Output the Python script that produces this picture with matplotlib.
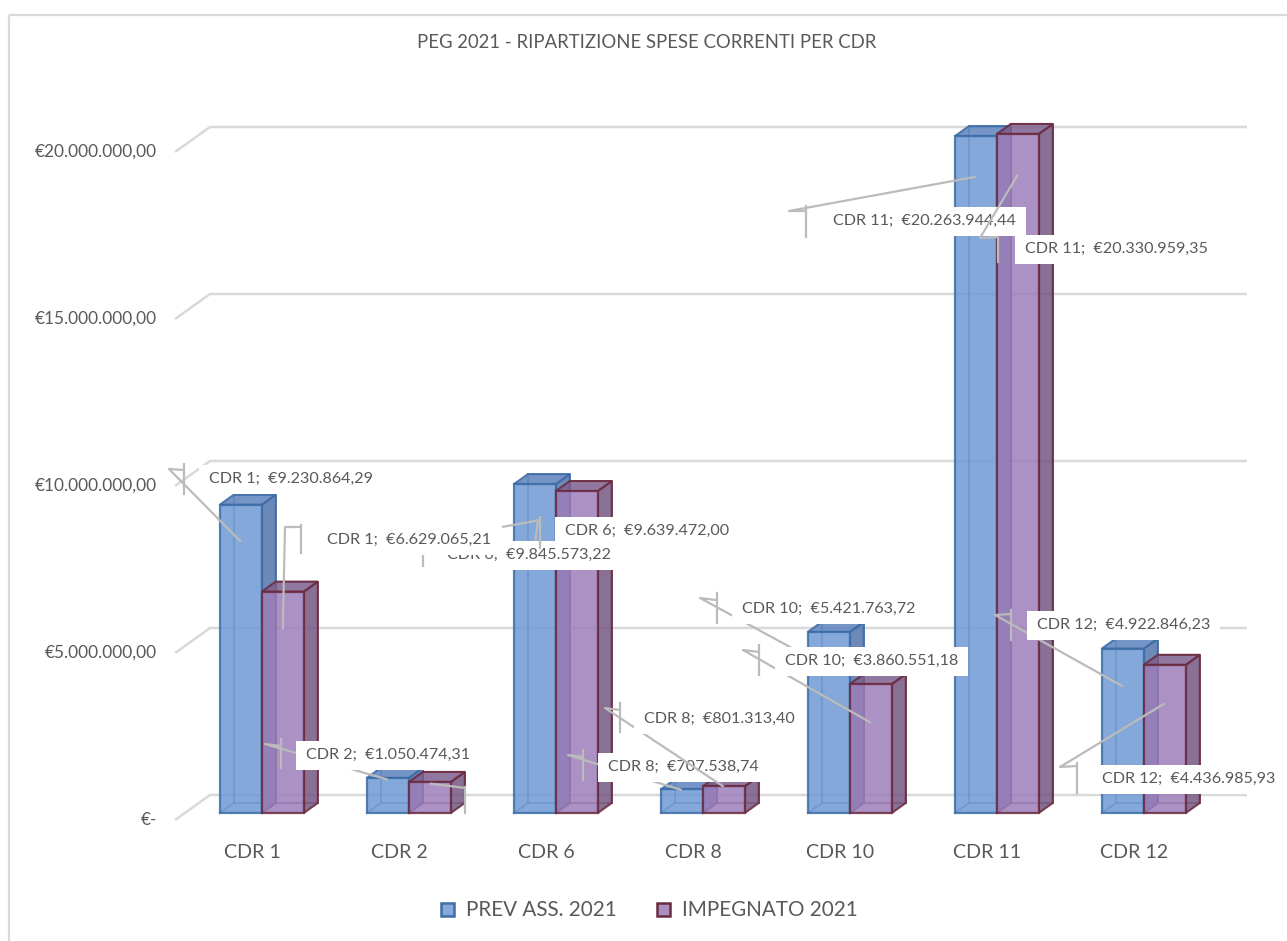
import matplotlib
matplotlib.use("Agg")
import matplotlib.pyplot as plt
from matplotlib.patches import Polygon, Rectangle

# ---------------- data ----------------
categories = ["CDR 1", "CDR 2", "CDR 6", "CDR 8", "CDR 10", "CDR 11", "CDR 12"]
prev_ass_2021 = [9230864.29, 1050474.31, 9845573.22, 707538.74, 5421763.72, 20263944.44, 4922846.23]
impegnato_2021 = [6629065.21, 930000.00, 9639472.00, 801313.40, 3860551.18, 20330959.35, 4436985.93]
series_names = ["PREV ASS. 2021", "IMPEGNATO 2021"]
y_ticks = [0, 5_000_000, 10_000_000, 15_000_000, 20_000_000]
title = "PEG 2021 - RIPARTIZIONE SPESE CORRENTI PER CDR"


def eur(v):
    if v == 0:
        return "€-"
    s = f"{v:,.2f}".replace(",", "X").replace(".", ",").replace("X", ".")
    return "€" + s


# ---------------- layout ----------------
W, H = 1287, 941
FONT = "Lato"
TXT = "#595959"
GRID = "#D9D9D9"
LEAD = "#BBBBBB"

plt.rcParams["font.family"] = [FONT, "DejaVu Sans"]

fig = plt.figure(figsize=(W / 100, H / 100), dpi=100)
ax = fig.add_axes([0, 0, 1, 1])
ax.set_axis_off()
lay = fig.add_axes([0, 0, 1, 1])
lay.set_axis_off()
lay.set_xlim(0, W)
lay.set_ylim(H, 0)

CAT_PX = 147.0          # pixels per category
CAT0_PX = 252.0         # pixel x of first category
VAL_PX = 33.4e-6        # pixels per euro
BASE_PX = 820.0         # pixel y of value 0 at the front plane
ax.set_xlim(-CAT0_PX / CAT_PX, (W - CAT0_PX) / CAT_PX)
ax.set_ylim(-(H - BASE_PX) / VAL_PX, BASE_PX / VAL_PX)

DX = 35.0 / CAT_PX      # depth offset (category units)
DY = 25.0 / VAL_PX      # depth offset (value units)
XL = (175.0 - CAT0_PX) / CAT_PX
XR = (1212.0 - CAT0_PX) / CAT_PX
BW = 42.0 / CAT_PX
D0, D1 = 0.28, 0.68

renderer = fig.canvas.get_renderer()


def fit(t, target):
    w = t.get_window_extent(renderer).width
    t.set_fontsize(t.get_fontsize() * target / w)
    return t.get_fontsize()


def to_px(x, y):
    a, b = ax.transData.transform((x, y))
    return a, H - b


# frame
lay.add_patch(Rectangle((9, 15), 1300, 960, fill=False, ec=GRID, lw=1.6, zorder=0))

# title
t = lay.text(647, 42, title, ha="center", va="center", color=TXT, fontsize=12)
fit(t, 457)

# gridlines on back wall + side diagonal
for v in y_ticks:
    ax.plot([XL, XL + DX, XR + DX], [v, v + DY, v + DY], color=GRID, lw=1.8,
            zorder=1, solid_capstyle="butt")

# y tick labels
tk = []
for v in y_ticks:
    tk.append(ax.text((157 - CAT0_PX) / CAT_PX, v, eur(v), ha="right", va="center",
                      color=TXT, fontsize=10))
fs = fit(tk[-1], 121)
for tt in tk:
    tt.set_fontsize(fs)

# category labels
cl = []
for i, c in enumerate(categories):
    cl.append(ax.text(i, -(852 - BASE_PX) / VAL_PX, c, ha="center", va="center",
                      color=TXT, fontsize=14))
fs = fit(cl[4], 68)
for tt in cl:
    tt.set_fontsize(fs)

styles = [
    dict(front=(110/255, 153/255, 212/255), side=(82/255, 117/255, 171/255),
         top=(94/255, 131/255, 190/255), edge="#3D6CA6", legend="#84A9DA"),
    dict(front=(156/255, 126/255, 186/255), side=(117/255, 87/255, 131/255),
         top=(126/255, 96/255, 143/255), edge="#6B2A3E", legend="#A990C2"),
]
ALPHA = 0.85


def P(x, y, d):
    return (x + d * DX, y + d * DY)


def bar3d(x0, v, st, z):
    x1 = x0 + BW
    back = [P(x0, 0, D1), P(x1, 0, D1), P(x1, v, D1), P(x0, v, D1)]
    ax.add_patch(Polygon(back, closed=True, fill=False, ec=st["edge"], lw=1.3,
                         alpha=0.7, zorder=z))
    a, b = P(x0, 0, D0), P(x0, 0, D1)
    ax.plot([a[0], b[0]], [a[1], b[1]], color=st["edge"], lw=1.3, alpha=0.7, zorder=z)
    side = [P(x1, 0, D0), P(x1, 0, D1), P(x1, v, D1), P(x1, v, D0)]
    top = [P(x0, v, D0), P(x0, v, D1), P(x1, v, D1), P(x1, v, D0)]
    front = [P(x0, 0, D0), P(x1, 0, D0), P(x1, v, D0), P(x0, v, D0)]
    ax.add_patch(Polygon(side, closed=True, fc=st["side"], ec=st["edge"], lw=1.5,
                         alpha=ALPHA, zorder=z + 0.1))
    ax.add_patch(Polygon(top, closed=True, fc=st["top"], ec=st["edge"], lw=1.5,
                         alpha=ALPHA, zorder=z + 0.2))
    ax.add_patch(Polygon(front, closed=True, fc=st["front"], ec=st["edge"], lw=1.6,
                         alpha=ALPHA, zorder=z + 0.3))


series = [prev_ass_2021, impegnato_2021]
z = 2
for i in range(len(categories)):
    for s, vals in enumerate(series):
        x0 = i - BW if s == 0 else i
        bar3d(x0, vals[i], styles[s], z)
        z += 1


def bar_anchor(s, i, frac):
    x0 = i - BW if s == 0 else i
    x, y = P(x0 + BW / 2, series[s][i] * frac, D0)
    return to_px(x, y)


# data labels: (series, category, anchor fraction, elbow px, end px, tick(x,y0,y1), text pos)
labels = [
    (0, 0, 0.88, (169, 469), (184, 470), (184, 464, 494), (209, 479)),
    (0, 1, 0.95, (265, 744), (281, 746), (281, 739, 768), (306, 755)),
    (0, 2, 0.81, (538, 519), (538, 519), (423, 546, 566), (447, 555)),
    (0, 3, 0.97, (568, 755), (583, 757), (583, 750, 780), (608, 767)),
    (0, 4, 0.80, (700, 598), (716, 600), (717, 593, 623), (742, 609)),
    (0, 5, 0.94, (789, 211), (805, 211), (806, 206, 237), (833, 221)),
    (0, 6, 0.77, (995, 615), (1011, 614), (1011, 610, 640), (1037, 625)),
    (1, 0, 0.83, (285, 527), (301, 527), (301, 525, 553), (327, 540)),
    (1, 1, 0.95, (465, 788), (465, 788), (465, 787, 813), None),
    (1, 2, 0.60, (502, 527), (540, 520), (540, 517, 548), (565, 531)),
    (1, 3, 0.98, (605, 708), (620, 710), (620, 703, 732), (644, 719)),
    (1, 4, 0.70, (743, 650), (759, 652), (759, 645, 675), (785, 661)),
    (1, 5, 0.94, (980, 238), (998, 237), (998, 238, 262), (1025, 249)),
    (1, 6, 0.74, (1060, 767), (1077, 766), (1077, 763, 793), (1102, 779)),
]

# font size for data labels
probe = lay.text(0, -100, "CDR 1;  " + eur(prev_ass_2021[0]), fontsize=11)
lab_fs = fit(probe, 164)
probe.remove()

zl = 20
for (s, i, frac, elbow, end, tick, tpos) in labels:
    ax_, ay_ = bar_anchor(s, i, frac)
    if s == 1 and i == 2:
        xs, ys = [elbow[0], end[0]], [elbow[1], end[1]]
    else:
        xs, ys = [ax_, elbow[0], end[0]], [ay_, elbow[1], end[1]]
    lay.plot(xs, ys, color=LEAD, lw=1.6, zorder=zl, solid_capstyle="butt")
    lay.plot([tick[0], tick[0]], [tick[1], tick[2]], color=LEAD, lw=1.6, zorder=zl)
    if tpos is not None:
        txt = f"{categories[i]};  {eur(series[s][i])}"
        tt = lay.text(tpos[0], tpos[1], txt, ha="left", va="center", color=TXT,
                      fontsize=lab_fs, zorder=zl + 1.5)
        bb = tt.get_window_extent(renderer)
        lay.add_patch(Rectangle((tpos[0] - 10, tpos[1] - 14.5), bb.width + 20, 29,
                                fc="white", ec="none", zorder=zl + 1))
    zl += 2

# legend
leg = []
for k, (name, lx, sx) in enumerate([(series_names[0], 466, 441), (series_names[1], 682, 657)]):
    lay.add_patch(Rectangle((sx, 903), 13, 13, fc=styles[k]["legend"], ec=styles[k]["edge"],
                            lw=1.8, zorder=50))
    leg.append(lay.text(lx, 910, name, ha="left", va="center", color=TXT, fontsize=14,
                        zorder=50))
fs = fit(leg[0], 151)
leg[1].set_fontsize(fs)

fig.savefig("out.png", dpi=100)
